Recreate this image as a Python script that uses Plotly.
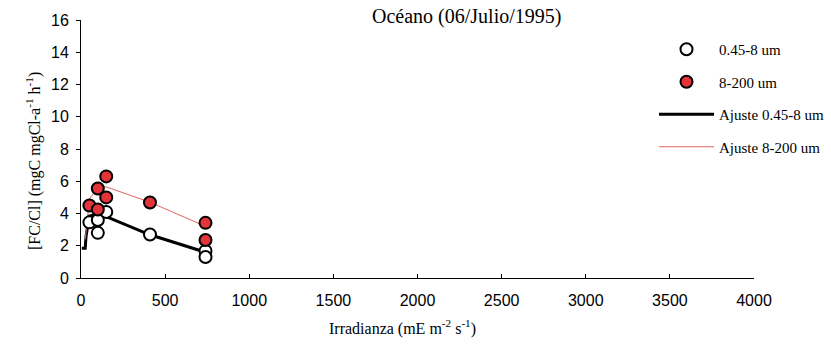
import plotly.graph_objects as go

# Measured rates by size fraction
x_small = [50, 100, 100, 150, 410, 740, 740]
y_small = [3.45, 3.6, 2.8, 4.1, 2.7, 1.68, 1.3]

x_large = [50, 100, 100, 150, 150, 410, 740, 740]
y_large = [4.5, 5.55, 4.25, 6.3, 5.0, 4.68, 3.42, 2.36]

# Fitted P-I curves
x_fit_small = [5, 25, 30, 50, 100, 150, 410, 740]
y_fit_small = [1.85, 1.85, 2.6, 3.85, 3.95, 3.8, 2.68, 1.6]

x_fit_large = [25, 50, 100, 150, 410, 740]
y_fit_large = [2.4, 4.9, 5.6, 5.65, 4.7, 3.2]

x_ticks = [0, 500, 1000, 1500, 2000, 2500, 3000, 3500, 4000]
y_ticks = [0, 2, 4, 6, 8, 10, 12, 14, 16]

serif = "Liberation Serif"
sans = "Liberation Sans"

# plot area in pixels: left 81, right 754, top 20, bottom 278
L, R, T, B = 81, 754, 20, 278


def px(xp):
    return (xp - L) / (R - L)


def py(yp):
    return (B - yp) / (B - T)


fig = go.Figure()

fig.add_trace(go.Scatter(
    x=x_fit_small, y=y_fit_small, mode="lines", name="Ajuste 0.45-8 um",
    line=dict(color="black", width=3), legendrank=3, legendgroup="c"))
fig.add_trace(go.Scatter(
    x=x_fit_large, y=y_fit_large, mode="lines", name="Ajuste 8-200 um",
    line=dict(color="#e06464", width=1), legendrank=4, legendgroup="d"))
fig.add_trace(go.Scatter(
    x=x_small, y=y_small, mode="markers", name="0.45-8 um",
    marker=dict(size=12, color="white", line=dict(color="black", width=2)),
    legendrank=1, legendgroup="a"))
fig.add_trace(go.Scatter(
    x=x_large, y=y_large, mode="markers", name="8-200 um",
    marker=dict(size=12, color="#e3343a", line=dict(color="black", width=2)),
    legendrank=2, legendgroup="b"))

fig.add_annotation(
    text="Océano (06/Julio/1995)", xref="paper", yref="paper",
    x=px(466), y=py(17), xanchor="center", yanchor="middle",
    showarrow=False, font=dict(family=serif, size=20, color="black"))
fig.add_annotation(
    text="Irradianza (mE m<sup>-2</sup> s<sup>-1</sup>)", xref="paper", yref="paper",
    x=px(402), y=py(327), xanchor="center", yanchor="middle",
    showarrow=False, font=dict(family=serif, size=16, color="black"))
fig.add_annotation(
    text="[FC/Cl] (mgC mgCl-a<sup>-1</sup> h<sup>-1</sup>)", xref="paper", yref="paper",
    x=px(33), y=py(161), xanchor="center", yanchor="middle", textangle=-90,
    showarrow=False, font=dict(family=serif, size=16, color="black"))

fig.update_layout(
    width=831, height=346,
    margin=dict(l=L, r=831 - R, t=T, b=346 - B, autoexpand=False),
    paper_bgcolor="white", plot_bgcolor="white",
    showlegend=True,
    legend=dict(
        x=px(654), xanchor="left", y=py(33), yanchor="top",
        font=dict(family=serif, size=15, color="black"),
        itemwidth=55, tracegroupgap=10, bgcolor="rgba(0,0,0,0)"),
    xaxis=dict(
        range=[0, 4000], tickvals=x_ticks, showgrid=False, zeroline=False,
        showline=True, linecolor="black", linewidth=1,
        ticks="inside", ticklen=4, tickcolor="black", ticklabelstandoff=8,
        tickfont=dict(family=sans, size=16, color="black")),
    yaxis=dict(
        range=[0, 16], tickvals=y_ticks, showgrid=False, zeroline=False,
        showline=True, linecolor="black", linewidth=1,
        ticks="outside", ticklen=4, tickcolor="black", ticklabelstandoff=4,
        tickfont=dict(family=sans, size=16, color="black")),
)

fig.write_html("out.html")
